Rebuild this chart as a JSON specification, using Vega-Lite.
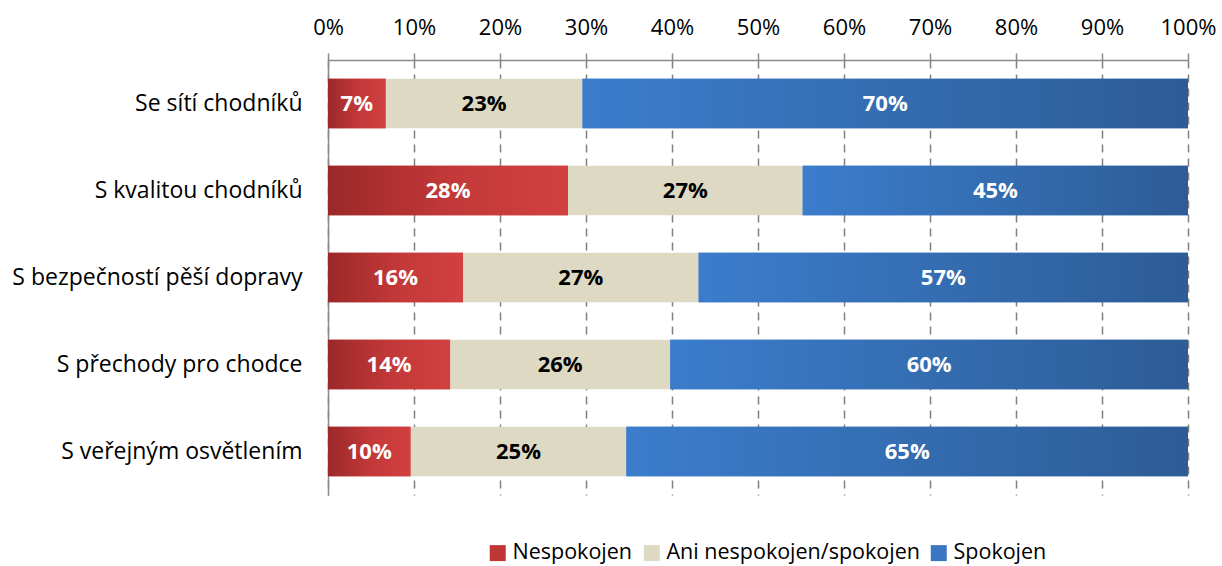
{
  "$schema": "https://vega.github.io/schema/vega-lite/v6.json",
  "autosize": {"type": "none"},
  "padding": {"left": 328, "top": 60, "right": 34, "bottom": 71},
  "width": 860,
  "height": 435,
  "background": "white",
  "config": {
    "view": {"stroke": null},
    "font": "Open Sans",
    "axis": {"labelFont": "Open Sans", "labelFontSize": 22, "labelColor": "black", "labelLimit": 400}
  },
  "data": {
    "values": [
      {"q": "Se sítí chodníků", "cat": "Nespokojen", "order": 1, "v": 6.7},
      {"q": "Se sítí chodníků", "cat": "Ani nespokojen/spokojen", "order": 2, "v": 22.9},
      {"q": "Se sítí chodníků", "cat": "Spokojen", "order": 3, "v": 70.4},
      {"q": "S kvalitou chodníků", "cat": "Nespokojen", "order": 1, "v": 27.9},
      {"q": "S kvalitou chodníků", "cat": "Ani nespokojen/spokojen", "order": 2, "v": 27.3},
      {"q": "S kvalitou chodníků", "cat": "Spokojen", "order": 3, "v": 44.8},
      {"q": "S bezpečností pěší dopravy", "cat": "Nespokojen", "order": 1, "v": 15.7},
      {"q": "S bezpečností pěší dopravy", "cat": "Ani nespokojen/spokojen", "order": 2, "v": 27.4},
      {"q": "S bezpečností pěší dopravy", "cat": "Spokojen", "order": 3, "v": 56.9},
      {"q": "S přechody pro chodce", "cat": "Nespokojen", "order": 1, "v": 14.2},
      {"q": "S přechody pro chodce", "cat": "Ani nespokojen/spokojen", "order": 2, "v": 25.6},
      {"q": "S přechody pro chodce", "cat": "Spokojen", "order": 3, "v": 60.2},
      {"q": "S veřejným osvětlením", "cat": "Nespokojen", "order": 1, "v": 9.6},
      {"q": "S veřejným osvětlením", "cat": "Ani nespokojen/spokojen", "order": 2, "v": 25.1},
      {"q": "S veřejným osvětlením", "cat": "Spokojen", "order": 3, "v": 65.3}
    ]
  },
  "transform": [
    {"stack": "v", "groupby": ["q"], "sort": [{"field": "order"}], "as": ["x0", "x1"]},
    {"calculate": "(datum.x0 + datum.x1) / 2", "as": "mid"},
    {"calculate": "format(datum.v, '.0f') + '%'", "as": "lbl"}
  ],
  "encoding": {
    "y": {
      "field": "q", "type": "nominal", "sort": null, "title": null,
      "scale": {"paddingInner": 0.43, "paddingOuter": 0.215},
      "axis": {"orient": "left", "ticks": false, "domain": true, "domainColor": "#8a8a8a", "domainWidth": 1.5, "labelPadding": 26, "grid": false, "labelFontSize": 23}
    }
  },
  "layer": [
    {
      "mark": {"type": "bar"},
      "encoding": {
        "x": {
          "field": "x0", "type": "quantitative", "title": null,
          "scale": {"domain": [0, 100], "nice": false},
          "axis": {
            "orient": "top", "values": [0, 10, 20, 30, 40, 50, 60, 70, 80, 90, 100],
            "labelExpr": "datum.value + '%'", "domain": true, "domainColor": "#8a8a8a", "domainWidth": 1.5,
            "ticks": true, "tickSize": 7, "tickColor": "#8a8a8a", "tickWidth": 1.5, "labelPadding": 14,
            "grid": true, "gridColor": "#808080", "gridWidth": 1.5, "gridDash": [8, 6], "labelFlush": false
          }
        },
        "x2": {"field": "x1"},
        "color": {
          "field": "cat", "type": "nominal", "title": null,
          "scale": {"domain": ["Nespokojen", "Ani nespokojen/spokojen", "Spokojen"], "range": ["#C03636", "#DDD9C3", "#3A76C2"]},
          "legend": {
            "orient": "none", "legendX": 159, "legendY": 482, "direction": "horizontal",
            "symbolType": "square", "symbolSize": 256, "symbolStrokeWidth": 0, "labelFontSize": 21.5, "labelFont": "Open Sans",
            "labelColor": "black", "columnPadding": 8, "labelOffset": 4, "labelLimit": 400
          }
        }
      }
    },
    {
      "transform": [{"filter": "datum.cat === 'Nespokojen'"}],
      "mark": {
        "type": "bar",
        "fill": {"gradient": "linear", "x1": 0, "y1": 0, "x2": 1, "y2": 0,
          "stops": [{"offset": 0, "color": "#9B2829"}, {"offset": 0.5, "color": "#C23838"}, {"offset": 1, "color": "#D24040"}]}
      },
      "encoding": {"x": {"field": "x0", "type": "quantitative"}, "x2": {"field": "x1"}}
    },
    {
      "transform": [{"filter": "datum.cat === 'Spokojen'"}],
      "mark": {
        "type": "bar",
        "fill": {"gradient": "linear", "x1": 0, "y1": 0, "x2": 1, "y2": 0,
          "stops": [{"offset": 0, "color": "#3B7DCC"}, {"offset": 1, "color": "#2D5C96"}]}
      },
      "encoding": {"x": {"field": "x0", "type": "quantitative"}, "x2": {"field": "x1"}}
    },
    {
      "mark": {"type": "text", "font": "Open Sans", "fontSize": 22, "fontWeight": "bold", "baseline": "middle", "align": "center"},
      "encoding": {
        "x": {"field": "mid", "type": "quantitative"},
        "text": {"field": "lbl", "type": "nominal"},
        "color": {"condition": {"test": "datum.cat === 'Ani nespokojen/spokojen'", "value": "black"}, "value": "white"}
      }
    }
  ]
}
